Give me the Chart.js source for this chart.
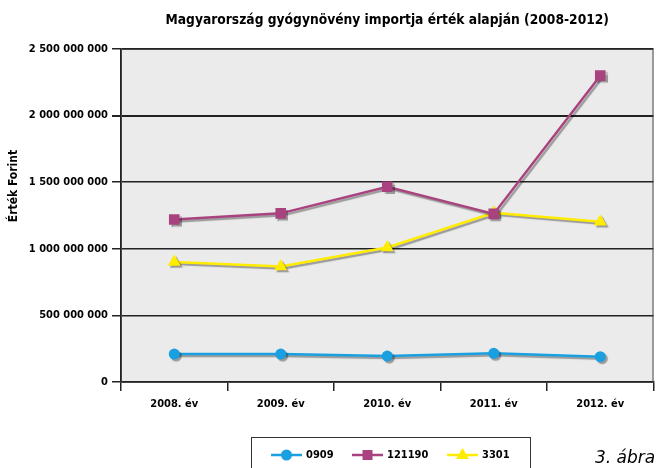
<!DOCTYPE html>
<html lang="hu">
<head>
    <meta charset="UTF-8">
    <title>Gyógynövény import</title>
    <style>
        body { margin: 0; background: #fff; }
    </style>
</head>
<body>
    <canvas id="myChart" width="661" height="468"></canvas>
<script src="https://cdn.jsdelivr.net/npm/chart.js@4.4.0/dist/chart.umd.min.js"></script>
<script>
    var evek = ["2008. év", "2009. év", "2010. év", "2011. év", "2012. év"];
    var sorozatNevek = ["0909", "121190", "3301"];
    var ertek0909 = [210000000, 210000000, 195000000, 215000000, 190000000];
    var ertek121190 = [1220000000, 1266000000, 1466000000, 1262000000, 2300000000];
    var ertek3301 = [900000000, 868000000, 1010000000, 1270000000, 1203000000];
    var yTickek = [0, 500000000, 1000000000, 1500000000, 2000000000, 2500000000];

    var cim = "Magyarország gyógynövény importja érték alapján (2008-2012)";
    var yCim = "Érték Forint";
    var abra = "3. ábra";

    var betu = "'DejaVu Sans Condensed', 'DejaVu Sans', sans-serif";

    function ezres(v) {
        return String(v).replace(/\B(?=(\d{3})+(?!\d))/g, " ");
    }

    // hatter, keret, cimek, jelmagyarazat
    var rajzolo = {
        id: 'rajzolo',
        beforeDraw: function(chart) {
            var ctx = chart.ctx, a = chart.chartArea;
            ctx.save();
            ctx.fillStyle = '#ebebeb';
            ctx.fillRect(a.left, a.top, a.right - a.left, a.bottom - a.top);
            ctx.restore();
        },
        beforeDatasetsDraw: function(chart) {
            var ctx = chart.ctx, a = chart.chartArea;
            ctx.save();
            ctx.strokeStyle = '#444';
            ctx.lineWidth = 1;
            ctx.strokeRect(a.left + 0.5, a.top + 0.5, a.right - a.left - 1, a.bottom - a.top);
            ctx.restore();
            ctx.save();
            ctx.shadowColor = 'rgba(0,0,0,0.35)';
            ctx.shadowOffsetX = 2;
            ctx.shadowOffsetY = 2;
            ctx.shadowBlur = 1;
        },
        afterDatasetsDraw: function(chart) {
            chart.ctx.restore();
        },
        afterDraw: function(chart) {
            var ctx = chart.ctx, a = chart.chartArea;
            ctx.save();
            ctx.fillStyle = '#000';
            ctx.font = "bold 13.7px " + betu;
            ctx.textAlign = 'center';
            ctx.textBaseline = 'middle';
            ctx.fillText(cim, (a.left + a.right) / 2, 20);

            ctx.save();
            ctx.translate(14, 186);
            ctx.rotate(-Math.PI / 2);
            ctx.font = "bold 12px " + betu;
            ctx.fillText(yCim, 0, 0);
            ctx.restore();

            // jelmagyarazat
            ctx.strokeStyle = '#333';
            ctx.lineWidth = 1;
            ctx.strokeRect(251.5, 437.5, 279, 40);
            var xk = [271, 352, 447];
            var y = 455;
            chart.data.datasets.forEach(function(ds, i) {
                var x = xk[i];
                ctx.strokeStyle = ds.borderColor;
                ctx.lineWidth = 2.5;
                ctx.beginPath();
                ctx.moveTo(x, y);
                ctx.lineTo(x + 31, y);
                ctx.stroke();
                var cx = x + 15.5;
                ctx.fillStyle = ds.backgroundColor;
                ctx.beginPath();
                if (ds.pointStyle === 'circle') {
                    ctx.arc(cx, y, 5.5, 0, Math.PI * 2);
                } else if (ds.pointStyle === 'rect') {
                    ctx.rect(cx - 5, y - 5, 10, 10);
                } else {
                    ctx.moveTo(cx, y - 7);
                    ctx.lineTo(cx + 6.5, y + 4);
                    ctx.lineTo(cx - 6.5, y + 4);
                    ctx.closePath();
                }
                ctx.fill();
                ctx.fillStyle = '#000';
                ctx.font = "bold 11px " + betu;
                ctx.textAlign = 'left';
                ctx.fillText(ds.label, x + 35, y);
            });

            ctx.font = "italic 17px 'DejaVu Sans', sans-serif";
            ctx.textAlign = 'left';
            ctx.textBaseline = 'alphabetic';
            ctx.fillText(abra, 595, 463);
            ctx.restore();
        }
    };

    var ctx = document.getElementById('myChart').getContext('2d');
    var myChart = new Chart(ctx, {
        type: 'line',
        data: {
            labels: evek,
            datasets: [{
                label: sorozatNevek[0],
                data: ertek0909,
                borderColor: '#1a9fe0',
                backgroundColor: '#1a9fe0',
                borderWidth: 2.5,
                pointStyle: 'circle',
                pointRadius: 5.5,
                pointBorderWidth: 0,
                pointHoverRadius: 5.5
            }, {
                label: sorozatNevek[1],
                data: ertek121190,
                borderColor: '#a9437f',
                backgroundColor: '#a9437f',
                borderWidth: 2.5,
                pointStyle: 'rect',
                pointRadius: 7.5,
                pointBorderWidth: 0,
                pointHoverRadius: 7.5
            }, {
                label: sorozatNevek[2],
                data: ertek3301,
                borderColor: '#ffec00',
                backgroundColor: '#ffec00',
                borderWidth: 2.5,
                pointStyle: 'triangle',
                pointRadius: 7.5,
                pointBorderWidth: 0,
                pointHoverRadius: 7.5
            }]
        },
        options: {
            responsive: false,
            animation: false,
            layout: { padding: { top: 49, right: 2, left: 0, bottom: 0 } },
            plugins: {
                legend: { display: false },
                title: { display: false },
                tooltip: { enabled: false }
            },
            scales: {
                x: {
                    offset: true,
                    grid: {
                        offset: true,
                        drawOnChartArea: false,
                        color: '#222',
                        tickLength: 9,
                        lineWidth: 1.5
                    },
                    border: { color: '#222', width: 1.5 },
                    ticks: {
                        color: '#000',
                        font: { family: betu, size: 11, weight: 'bold' },
                        padding: 7,
                        maxRotation: 0
                    },
                    afterFit: function(scale) { scale.height = 86; }
                },
                y: {
                    min: 0,
                    max: 2500000000,
                    afterBuildTicks: function(scale) {
                        scale.ticks = yTickek.map(function(v) { return { value: v }; });
                    },
                    grid: {
                        color: '#222',
                        tickLength: 9,
                        lineWidth: function(c) { return c.tick && c.tick.value === 2000000000 ? 2 : 1.5; }
                    },
                    border: { color: '#222', width: 1.5 },
                    ticks: {
                        color: '#000',
                        font: { family: betu, size: 11, weight: 'bold' },
                        padding: 4,
                        callback: function(v) { return ezres(v); }
                    },
                    afterFit: function(scale) { scale.width = 121; }
                }
            }
        },
        plugins: [rajzolo]
    });
</script>
</body>
</html>
